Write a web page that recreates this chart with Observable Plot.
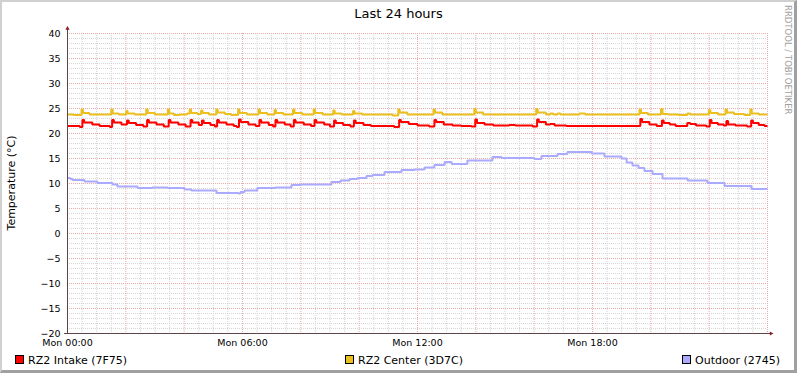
<!DOCTYPE html>
<html><head><meta charset="utf-8">
<script src="https://cdn.jsdelivr.net/npm/d3@7"></script>
<script src="https://cdn.jsdelivr.net/npm/@observablehq/plot@0.6"></script>
<style>
body{margin:0;background:#fff;}
#wrap{position:relative;width:797px;height:373px;overflow:hidden;background:#fff;font-family:"DejaVu Sans";}
#wrap svg{position:absolute;left:0;top:0}
.frame{position:absolute;left:0;top:0;width:797px;height:373px;box-sizing:border-box;border-style:solid;border-width:2px 3px 3px 2px;border-color:#d0d0d0 #a0a0a0 #a0a0a0 #d0d0d0;pointer-events:none}
</style>
</head><body>
<div id="wrap"></div>
<script>
// ---- data (hours since Mon 00:00, °C) ----
const title = "Last 24 hours";
const yLabel = "Temperature (°C)";
const watermark = "RRDTOOL / TOBI OETIKER";
const yTicks = [-20,-15,-10,-5,0,5,10,15,20,25,30,35,40];
const xTickHours = [0,6,12,18];
const xTickLabels = ["Mon 00:00","Mon 06:00","Mon 12:00","Mon 18:00"];
const seriesNames = ["RZ2 Intake (7F75)","RZ2 Center (3D7C)","Outdoor (2745)"];
const seriesColors = ["#ff0000","#ebc01e","#aaaaff"];

const intake = [
[0,21.5],[0.42,21.3],[0.51,22.7],[0.57,22.2],[0.85,21.8],[1.1,21.5],[1.45,21.3],
[1.53,22.7],[1.59,22.2],[1.85,21.8],
[2.04,22.6],[2.1,22.1],[2.35,21.7],[2.6,21.4],
[2.73,22.7],[2.79,22.2],[3.05,21.8],[3.3,21.4],
[3.47,22.7],[3.53,22.2],[3.8,21.8],[4.05,21.4],
[4.22,22.7],[4.28,22.2],[4.5,21.7],
[4.61,22.6],[4.67,22.1],[4.9,21.7],[5.05,21.4],
[5.13,22.7],[5.19,22.2],[5.45,21.8],[5.7,21.5],[5.8,21.3],
[5.88,22.8],[5.94,22.3],[6.2,21.8],[6.45,21.5],
[6.58,22.7],[6.64,22.2],[6.9,21.7],[7.05,21.4],
[7.13,22.7],[7.19,22.2],[7.45,21.8],[7.65,21.4],
[7.76,22.7],[7.82,22.2],[8.1,21.8],[8.35,21.5],
[8.47,22.7],[8.53,22.2],[8.8,21.8],[9.0,21.4],
[9.14,22.6],[9.2,22.1],[9.45,21.7],[9.7,21.4],
[9.82,22.6],[9.88,22.1],[10.15,21.7],[10.4,21.5],[11.2,21.3],
[11.37,22.7],[11.43,22.3],[11.7,21.9],[12.0,21.6],[12.4,21.4],
[12.58,22.7],[12.64,22.3],[12.9,21.8],[13.2,21.6],[13.5,21.5],[13.85,21.4],
[13.98,22.8],[14.04,22.1],[14.3,21.8],[14.6,21.6],[15.15,21.7],[15.35,21.6],[15.95,21.4],
[16.1,22.8],[16.16,22.3],[16.4,21.8],[16.55,21.9],[16.7,21.6],[17.1,21.5],
[19.64,22.9],[19.7,22.3],[19.95,21.8],[20.2,21.5],
[20.38,22.6],[20.44,22.1],[20.65,21.8],[20.85,21.5],
[21.25,22.1],[21.35,21.9],[21.55,21.6],[21.9,21.4],
[22.02,22.7],[22.08,22.1],[22.3,21.8],[22.5,21.6],
[22.59,22.5],[22.65,21.8],[22.9,21.6],[23.3,21.4],
[23.44,22.6],[23.5,22.1],[23.7,21.7],[23.9,21.5],[24,21.5]
];

const center = [
[0,23.8],[0.2,23.7],[0.48,24.8],[0.53,24.1],[0.75,23.8],
[1.5,24.8],[1.55,24.0],[1.75,23.8],
[2.01,24.5],[2.06,24.0],[2.3,23.8],
[2.7,24.8],[2.75,24.1],[3.0,23.8],
[3.44,24.8],[3.49,24.0],[3.65,23.7],[3.85,23.8],
[4.1,24.0],[4.19,24.8],[4.24,24.1],[4.45,23.9],
[4.58,24.6],[4.63,24.1],[4.85,23.8],
[5.1,24.8],[5.15,24.2],[5.4,23.9],[5.6,23.7],
[5.85,24.8],[5.9,24.1],[6.15,23.8],
[6.55,24.8],[6.6,24.1],[6.85,23.8],
[7.1,24.7],[7.15,24.1],[7.4,23.8],
[7.73,24.8],[7.78,24.1],[8.05,23.8],
[8.44,24.8],[8.49,24.1],[8.75,23.8],
[9.11,24.6],[9.16,24.0],[9.4,23.8],
[9.79,24.5],[9.84,24.0],[10.1,23.8],[11.15,23.6],
[11.34,24.8],[11.39,24.2],[11.65,23.8],
[12.55,24.8],[12.6,24.2],[12.85,23.8],
[13.95,24.9],[14.0,24.2],[14.25,23.8],
[16.07,24.9],[16.12,24.2],[16.4,23.8],[16.55,24.0],[16.65,23.8],[16.8,24.0],[16.9,23.8],[17.55,24.0],[17.75,23.8],
[19.61,24.8],[19.66,24.1],[19.9,23.8],
[20.35,24.9],[20.4,23.9],[20.6,23.8],[20.95,23.7],[21.25,24.0],[21.35,23.8],
[21.99,24.7],[22.04,24.1],[22.3,23.8],
[22.56,24.8],[22.61,24.2],[22.85,23.9],[23.2,23.7],
[23.41,24.8],[23.46,24.0],[23.7,23.8],[24,23.8]
];

const outdoor = [
[0,11.1],[0.1,10.9],[0.17,10.7],[0.58,10.4],[1.03,10.1],[1.54,9.8],[1.71,9.4],
[2.4,9.1],[2.91,9.2],[3.43,9.1],[4.01,8.8],[4.25,8.6],[5.11,8.1],[5.86,8.0],
[5.93,8.3],[6.07,8.6],[6.51,9.1],[7.13,9.2],[7.68,9.7],[7.99,9.8],[9.05,10.3],
[9.36,10.6],[9.67,10.9],[9.94,11.1],[10.25,11.5],[10.46,11.7],[10.87,12.3],
[11.45,12.7],[11.9,12.8],[12.24,13.2],[12.58,13.7],[12.93,14.3],[13.17,13.9],
[13.71,14.6],[14.57,15.3],[14.88,15.1],[16.01,14.9],[16.25,15.5],[16.8,15.9],
[17.14,16.3],[17.97,16.0],[18.41,15.4],[18.99,15.0],[19.17,14.2],[19.37,13.6],
[19.58,13.1],[19.78,12.5],[20.06,11.9],[20.4,11.0],[21.26,10.6],[21.94,10.1],
[22.53,9.5],[23.45,8.9],[24,8.9]
];

// ---- chart ----
const series = [intake, center, outdoor];
const labelByHour = new Map(xTickHours.map((h, i) => [h, xTickLabels[i]]));
const majorX = d3.range(0, 24.001, 2);
const minorX = d3.range(0, 24.001, 0.5).filter(h => h % 2 !== 0);
const majorY = d3.range(-20, 40.001, 5);
const minorY = d3.range(-20, 40.001, 1).filter(v => v % 5 !== 0);

const lineMarks = series.map((s, i) => Plot.line(s, {
  x: d => d[0], y: d => d[1], curve: "step-after",
  stroke: seriesColors[i], strokeWidth: 2, strokeLinejoin: "miter", strokeLinecap: "butt"
}));

const chart = Plot.plot({
  width: 797, height: 373,
  marginLeft: 67, marginRight: 30, marginTop: 33, marginBottom: 40,
  style: {fontFamily: "DejaVu Sans", fontSize: "9.5px", color: "#000", background: "transparent"},
  x: {domain: [0, 24], axis: null},
  y: {domain: [-20, 40], axis: null},
  marks: [
    Plot.ruleX(minorX, {stroke: "#d2d2d2", strokeDasharray: "1,1"}),
    Plot.ruleY(minorY, {stroke: "#d6d6d6", strokeDasharray: "1,1"}),
    Plot.ruleX(majorX, {stroke: "#eaaaaa", strokeDasharray: "1,1"}),
    Plot.ruleY(majorY, {stroke: "#eaaaaa", strokeDasharray: "1,1"}),
    Plot.axisY(yTicks, {tickSize: 0, tickPadding: 7, label: null, fill: "#000"}),
    Plot.axisX(xTickHours, {tickSize: 0, tickPadding: 6, label: null, fill: "#000",
      tickFormat: d => labelByHour.get(d)}),
    ...lineMarks,
    Plot.ruleY([-20], {x1: -0.1, x2: 24.1, stroke: "#5a4646", strokeWidth: 1}),
    Plot.ruleX([0], {y1: -20.2, y2: 40.9, stroke: "#5a4646", strokeWidth: 1}),
    Plot.dot([[24.12, -20]], {x: d => d[0], y: d => d[1], symbol: "triangle2", r: 2, rotate: 90, fill: "#8b1c1c", stroke: "none"}),
    Plot.dot([[0, 41.0]], {x: d => d[0], y: d => d[1], symbol: "triangle2", r: 2, fill: "#8b1c1c", stroke: "none"})
  ]
});

const wrap = document.getElementById("wrap");
wrap.appendChild(chart);

// overlay for title, y label, legend and watermark
const ov = d3.create("svg").attr("width", 797).attr("height", 373)
  .attr("font-family", "DejaVu Sans").style("pointer-events", "none");
ov.append("text").attr("x", 398.5).attr("y", 18).attr("text-anchor", "middle")
  .attr("font-size", 13).attr("fill", "#000").text(title);
ov.append("text").attr("transform", "translate(15,183) rotate(-90)").attr("text-anchor", "middle")
  .attr("font-size", 11).attr("fill", "#000").text(yLabel);
ov.append("text").attr("transform", "translate(785,5) rotate(90)")
  .attr("font-size", 8.5).attr("fill", "#a0a0a0").text(watermark);
const legX = [15, 345, 682];
seriesNames.forEach((n, i) => {
  ov.append("rect").attr("x", legX[i] + 0.5).attr("y", 355.5).attr("width", 8).attr("height", 8)
    .attr("fill", seriesColors[i]).attr("stroke", "#000").attr("stroke-width", 1);
  ov.append("text").attr("x", legX[i] + 13).attr("y", 364).attr("font-size", 11)
    .attr("fill", "#000").text(n);
});
wrap.appendChild(ov.node());
const fr = document.createElement("div"); fr.className = "frame"; wrap.appendChild(fr);
</script>
</body></html>
